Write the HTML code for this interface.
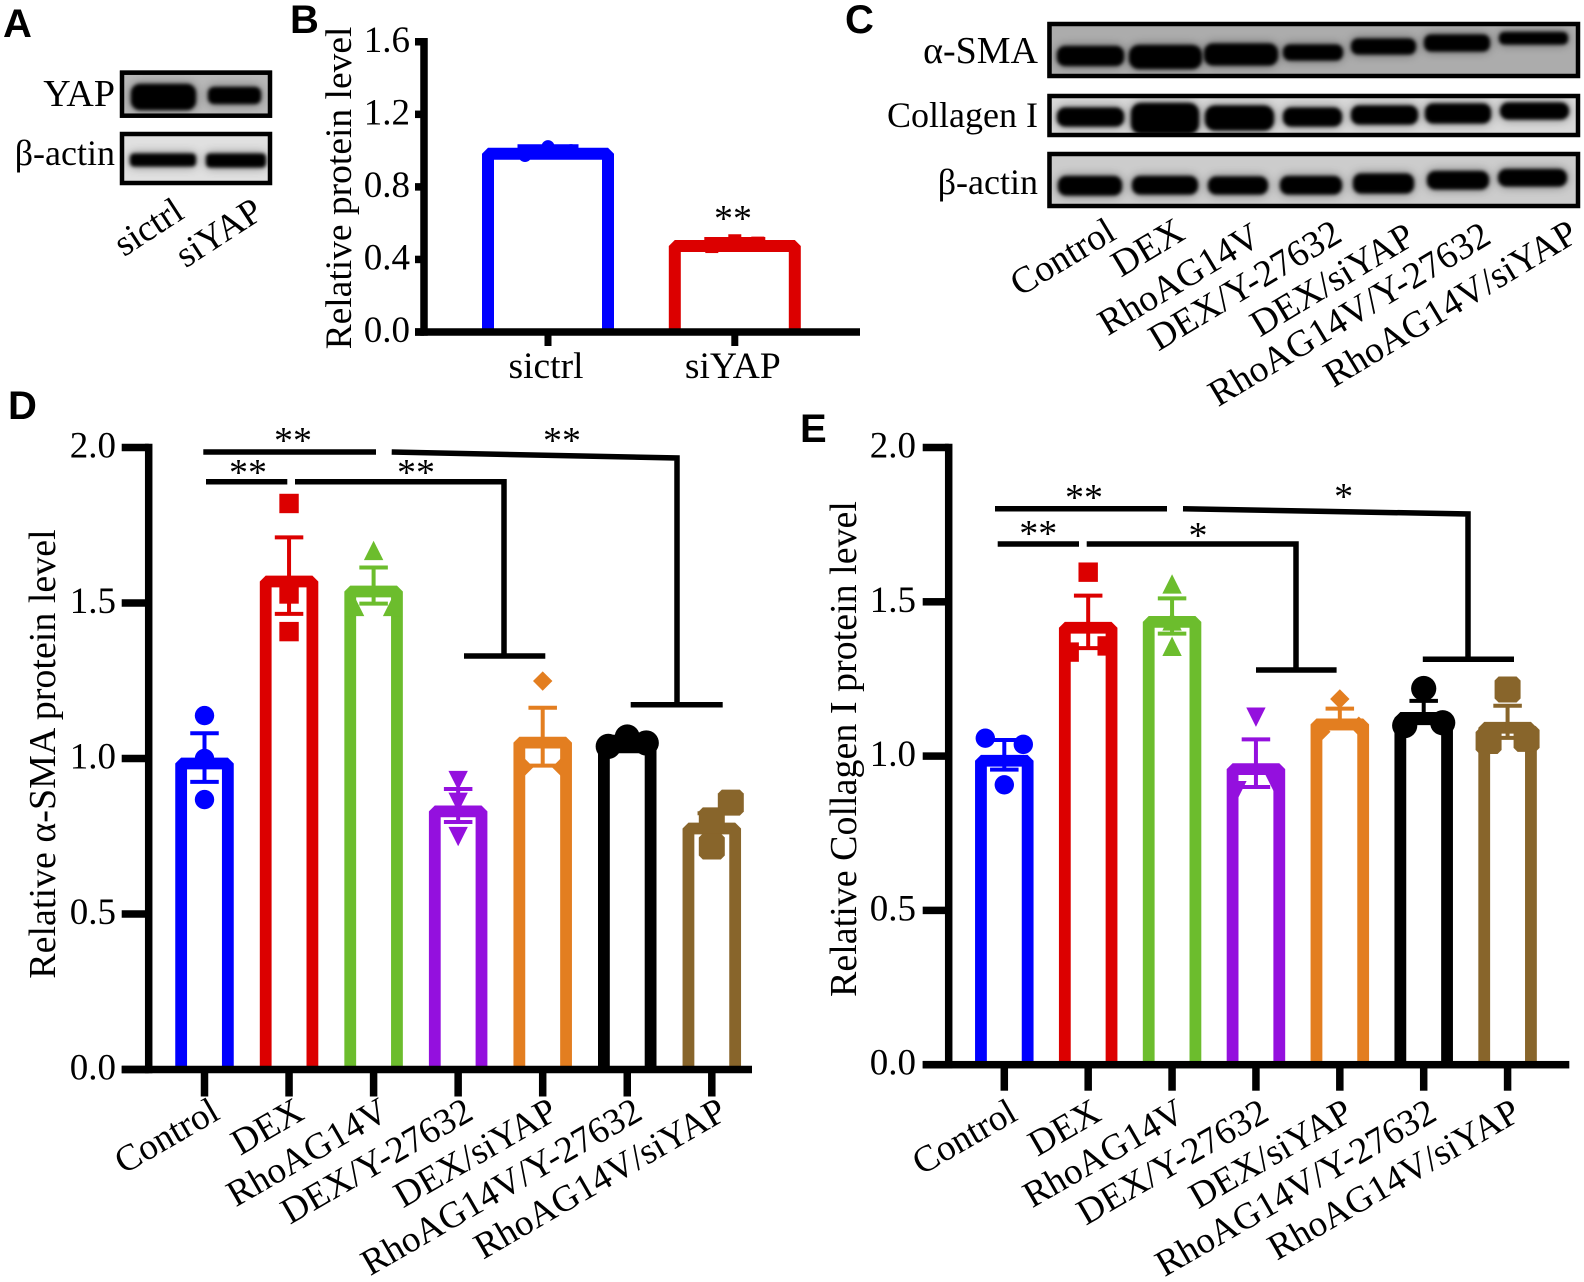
<!DOCTYPE html>
<html lang="en">
<head>
<meta charset="utf-8">
<title>Protein level figure</title>
<style>
html,body{margin:0;padding:0;background:#fff;}
svg{display:block;}
text{font-family:"Liberation Serif",serif;fill:#000;}
.panel{font-family:"Liberation Sans",sans-serif;font-weight:bold;font-size:40px;}
</style>
</head>
<body>
<svg id="fig" xmlns="http://www.w3.org/2000/svg" width="1584" height="1282" viewBox="0 0 1584 1282">
<defs>
<filter id="band" x="-40%" y="-150%" width="180%" height="400%">
<feGaussianBlur in="SourceGraphic" stdDeviation="1.8" result="a"/>
<feGaussianBlur in="SourceGraphic" stdDeviation="5" result="b"/>
<feComponentTransfer in="b" result="c"><feFuncA type="linear" slope=".5"/></feComponentTransfer>
<feMerge><feMergeNode in="c"/><feMergeNode in="a"/></feMerge>
</filter>
<clipPath id="c-a1"><rect x="120" y="70" width="152" height="48"/></clipPath>
<clipPath id="c-a2"><rect x="120" y="132" width="152" height="53"/></clipPath>
<clipPath id="c-c1"><rect x="1047" y="22" width="533" height="56"/></clipPath>
<clipPath id="c-c2"><rect x="1047" y="94" width="533" height="43"/></clipPath>
<clipPath id="c-c3"><rect x="1047" y="152" width="533" height="56"/></clipPath>
</defs>
<rect width="1584" height="1282" fill="#fff"/>

<text class="panel" x="3" y="37">A</text>
<text class="panel" x="290" y="33">B</text>
<text class="panel" x="845" y="33">C</text>
<text class="panel" x="8" y="419">D</text>
<text class="panel" x="800" y="442">E</text>

<!-- Panel A blots -->
<g clip-path="url(#c-a1)">
<rect x="120" y="70" width="152" height="48" fill="#b8b8b8"/>
<rect x="131" y="84" width="65" height="26" rx="9" fill="#000" filter="url(#band)"/>
<rect x="208" y="87" width="53" height="17" rx="6" fill="#000" filter="url(#band)"/>
</g>
<rect x="122" y="72.7" width="148" height="43" fill="none" stroke="#000" stroke-width="4.5"/>
<g clip-path="url(#c-a2)">
<rect x="120" y="132" width="152" height="53" fill="#e0e0e0"/>
<rect x="130" y="153.5" width="66" height="13" rx="4" fill="#000" filter="url(#band)"/>
<rect x="206" y="153.5" width="60" height="14" rx="4" fill="#000" filter="url(#band)"/>
</g>
<rect x="122" y="134" width="148" height="49" fill="none" stroke="#000" stroke-width="4.5"/>
<text x="115" y="106" text-anchor="end" font-size="38">YAP</text>
<text x="115" y="165" text-anchor="end" font-size="36">β-actin</text>
<text transform="translate(186,217) rotate(-33)" text-anchor="end" font-size="37">sictrl</text>
<text transform="translate(265,217) rotate(-33)" text-anchor="end" font-size="37">siYAP</text>

<!-- Panel C blots -->
<g clip-path="url(#c-c1)">
<rect x="1047" y="22" width="533" height="56" fill="#acacac"/>
<rect x="1057" y="46" width="67" height="20" rx="8" fill="#000" filter="url(#band)"/>
<rect x="1129" y="45" width="73" height="24" rx="10" fill="#000" filter="url(#band)"/>
<rect x="1204" y="43.5" width="74" height="22" rx="9" fill="#000" filter="url(#band)"/>
<rect x="1283" y="44.5" width="60" height="16" rx="7" fill="#000" filter="url(#band)"/>
<rect x="1351" y="38.5" width="65" height="16" rx="7" fill="#000" filter="url(#band)"/>
<rect x="1424" y="34.5" width="66" height="17" rx="7" fill="#000" filter="url(#band)"/>
<rect x="1499" y="32" width="69" height="12.5" rx="5" fill="#000" filter="url(#band)"/>
</g>
<rect x="1049.5" y="24" width="528.5" height="52" fill="none" stroke="#000" stroke-width="4.5"/>
<g clip-path="url(#c-c2)">
<rect x="1047" y="94" width="533" height="43" fill="#d8d8d8"/>
<rect x="1057" y="107.5" width="67" height="19" rx="8" fill="#000" filter="url(#band)"/>
<rect x="1131" y="103" width="68" height="31" rx="10" fill="#000" filter="url(#band)"/>
<rect x="1205" y="105.5" width="69" height="25" rx="10" fill="#000" filter="url(#band)"/>
<rect x="1283" y="107.5" width="59" height="19" rx="8" fill="#000" filter="url(#band)"/>
<rect x="1351" y="105.5" width="67" height="19" rx="8" fill="#000" filter="url(#band)"/>
<rect x="1425" y="103.5" width="66" height="20" rx="8" fill="#000" filter="url(#band)"/>
<rect x="1500" y="102.5" width="69" height="17" rx="8" fill="#000" filter="url(#band)"/>
</g>
<rect x="1049.5" y="96" width="528.5" height="39" fill="none" stroke="#000" stroke-width="4.5"/>
<g clip-path="url(#c-c3)">
<rect x="1047" y="152" width="533" height="56" fill="#cccccc"/>
<rect x="1058" y="176" width="64" height="19.5" rx="8" fill="#000" filter="url(#band)"/>
<rect x="1132" y="176" width="66" height="18.5" rx="8" fill="#000" filter="url(#band)"/>
<rect x="1208" y="176.5" width="60" height="18" rx="8" fill="#000" filter="url(#band)"/>
<rect x="1280" y="176" width="62" height="18.5" rx="8" fill="#000" filter="url(#band)"/>
<rect x="1353" y="173.5" width="61" height="20" rx="8" fill="#000" filter="url(#band)"/>
<rect x="1427" y="171" width="62" height="18.5" rx="8" fill="#000" filter="url(#band)"/>
<rect x="1498" y="169" width="69" height="17.5" rx="8" fill="#000" filter="url(#band)"/>
</g>
<rect x="1049.5" y="154" width="528.5" height="52" fill="none" stroke="#000" stroke-width="4.5"/>
<text x="1038" y="63" text-anchor="end" font-size="38">α-SMA</text>
<text x="1038" y="127" text-anchor="end" font-size="36">Collagen I</text>
<text x="1038" y="194" text-anchor="end" font-size="36">β-actin</text>
<text transform="translate(1118,238) rotate(-31)" text-anchor="end" font-size="37.5">Control</text>
<text transform="translate(1187,238) rotate(-31)" text-anchor="end" font-size="37.5">DEX</text>
<text transform="translate(1263,243) rotate(-31)" text-anchor="end" font-size="37.5">RhoAG14V</text>
<text transform="translate(1344,240) rotate(-31)" text-anchor="end" font-size="37.5">DEX/Y-27632</text>
<text transform="translate(1417,243) rotate(-31)" text-anchor="end" font-size="37.5">DEX/siYAP</text>
<text transform="translate(1493,242) rotate(-31)" text-anchor="end" font-size="37.5">RhoAG14V/Y-27632</text>
<text transform="translate(1580,240) rotate(-31)" text-anchor="end" font-size="37.5">RhoAG14V/siYAP</text>

<!-- Significance brackets D -->
<g fill="none" stroke="#000" stroke-width="5.5">
<path d="M203.3 452H376"/>
<path d="M206 481.7H287.3"/>
<path d="M295 481.7H504V656M464 656H545.3"/>
<path d="M391.7 452L677 458V704.7M630.7 704.7H722.7"/>
</g>
<!-- Significance brackets E -->
<g fill="none" stroke="#000" stroke-width="5.5">
<path d="M995 508.7H1167"/>
<path d="M997.7 544H1079"/>
<path d="M1086.7 544H1296V670M1256 670H1336.6"/>
<path d="M1183 508.7L1468 514V659.3M1422.8 659.3H1514"/>
</g>
<g id="charts"></g>
<g font-size="38" text-anchor="middle">
<text x="733" y="231">**</text>
<text x="293" y="453">**</text>
<text x="248" y="485">**</text>
<text x="416" y="485">**</text>
<text x="562" y="453">**</text>
<text x="1084" y="510">**</text>
<text x="1038.3" y="546">**</text>
<text x="1198" y="548">*</text>
<text x="1343.6" y="509">*</text>
</g>
</svg>
<script>
// Shared categories
const groupLabels = ["Control","DEX","RhoAG14V","DEX/Y-27632","DEX/siYAP","RhoAG14V/Y-27632","RhoAG14V/siYAP"];
const groupSlugs = ["control","dex","rhoag14v","dex-y27632","dex-siyap","rhoag14v-y27632","rhoag14v-siyap"];

// Panel B values
const bCategories = ["sictrl","siYAP"];
const bMeans = [1.016,0.507];
const bSems = [0.008,0.006];
const bPoints = [[1.022,0.973,1.0],[0.503,0.471,0.49]];
const bSlots = [[0,-1,1],[0,-1,1]];
const bTicks = [0,0.4,0.8,1.2,1.6];
const bTickLabels = ["0.0","0.4","0.8","1.2","1.6"];

// Panel D values (alpha-SMA)
const dMeans = [1.003,1.588,1.556,0.849,1.07,1.055,0.794];
const dSems = [0.078,0.123,0.058,0.053,0.093,0.015,0.03];
const dPoints = [[1.138,1.0,0.868],[1.82,1.529,1.408],[1.669,1.489,1.489],[0.929,0.859,0.749],[1.249,0.972,0.972],[1.039,1.069,1.05],[0.858,0.801,0.717]];
const dSlots = [[0,0,0],[0,0,0],[0,-1,1],[0,0,0],[0,-1,1],[-1,0,1],[1,0,0]];
const dTicks = [0,0.5,1,1.5,2];
const dTickLabels = ["0.0","0.5","1.0","1.5","2.0"];

// Panel E values (Collagen I)
const eMeans = [1.004,1.435,1.454,0.977,1.122,1.143,1.111];
const eSems = [0.048,0.085,0.057,0.077,0.032,0.036,0.052];
const ePoints = [[1.058,1.038,0.907],[1.596,1.337,1.357],[1.558,1.356,1.438],[1.126,0.909,0.888],[1.185,1.079,1.097],[1.219,1.099,1.108],[1.216,1.049,1.056]];
const eSlots = [[-1,1,0],[0,-1,1],[0,0,0],[0,1,-1],[0,-1,1],[0,-1,1],[0,-1,1]];
const eTicks = [0,0.5,1,1.5,2];
const eTickLabels = ["0.0","0.5","1.0","1.5","2.0"];

// Styling per group
const groupColors = ["#0000ff","#dc0000","#6cbd2d","#9410de","#e37e20","#000000","#88652b"];
const groupShapes = ["circle","square","up","down","diamond","bigcircle","bigsquare"];

const NS = "http://www.w3.org/2000/svg";
const root = document.getElementById("charts");
function mk(tag, attrs, parent){
  const el = document.createElementNS(NS, tag);
  for (const k in attrs) el.setAttribute(k, attrs[k]);
  parent.appendChild(el);
  return el;
}
function marker(shape, cx, cy, s, color, parent){
  let el;
  if (shape === "circle") {
    el = mk("circle",{cx:cx,cy:cy,r:s,fill:color},parent);
  } else if (shape === "bigcircle") {
    el = mk("circle",{cx:cx,cy:cy,r:s*1.3,fill:color},parent);
  } else if (shape === "square") {
    el = mk("rect",{x:cx-s,y:cy-s,width:2*s,height:2*s,fill:color},parent);
  } else if (shape === "bigsquare") {
    const h = s*1.34, c = 4;
    el = mk("polygon",{points:[[cx-h+c,cy-h],[cx+h-c,cy-h],[cx+h,cy-h+c],[cx+h,cy+h-c],[cx+h-c,cy+h],[cx-h+c,cy+h],[cx-h,cy+h-c],[cx-h,cy-h+c]].map(p=>p.join(",")).join(" "),fill:color},parent);
  } else if (shape === "up") {
    el = mk("polygon",{points:[[cx,cy-s],[cx+s,cy+s],[cx-s,cy+s]].map(p=>p.join(",")).join(" "),fill:color},parent);
  } else if (shape === "down") {
    el = mk("polygon",{points:[[cx,cy+s],[cx+s,cy-s],[cx-s,cy-s]].map(p=>p.join(",")).join(" "),fill:color},parent);
  } else {
    el = mk("polygon",{points:[[cx,cy-s],[cx+s,cy],[cx,cy+s],[cx-s,cy]].map(p=>p.join(",")).join(" "),fill:color},parent);
  }
  return el;
}
function drawBars(name, parent, xAt, yAt, means, sems, points, slots, colors, shapes, slugs, st){
  const base = yAt(0);
  means.forEach(function(m, i){
    const g = mk("g",{},parent);
    
    
    const cx = xAt(i), sw = st.stroke, hw = st.barW/2 - sw/2, top = yAt(m) + sw/2;
    const bar = mk("path",{d:"M"+(cx-hw)+" "+base+"V"+top+"H"+(cx+hw)+"V"+base,fill:"#fff",stroke:colors[i],"stroke-width":sw,"stroke-linejoin":"bevel"},g);
    
    
    const yHi = yAt(m + sems[i]), yLo = yAt(m - sems[i]);
    const err = mk("path",{d:"M"+cx+" "+yHi+"V"+yLo+"M"+(cx-st.cap/2)+" "+yHi+"H"+(cx+st.cap/2)+"M"+(cx-st.cap/2)+" "+yLo+"H"+(cx+st.cap/2),fill:"none",stroke:colors[i],"stroke-width":st.errW},g);
    
    
    points[i].forEach(function(v, j){
      const p = marker(shapes[i], cx + slots[i][j]*st.spread, yAt(v), st.size, colors[i], g);
      
      
    });
  });
}
function drawAxes(name, parent, xAt, yAt, ticks, tickLabels, cats, st){
  const g = mk("g",{},parent);
  
  
  const w = st.axisW, y0 = yAt(0);
  const top = yAt(ticks[ticks.length-1]);
  const yAxis = mk("rect",{x:st.axisX-w/2,y:top-w/2,width:w,height:y0-top+w,fill:"#000"},g);
  
  
  const xAxis = mk("rect",{x:st.axisLeft,y:y0-w/2,width:st.axisRight-st.axisLeft,height:w,fill:"#000"},g);
  
  
  ticks.forEach(function(t, i){
    const yy = yAt(t);
    const tk = mk("rect",{x:st.axisLeft,y:yy-w/2,width:st.axisX-st.axisLeft,height:w,fill:"#000"},g);
    
    
    const lb = mk("text",{x:st.labelX,y:yy+st.labelDy,"text-anchor":"end","font-size":st.tickFont},g);
    lb.textContent = tickLabels[i];
    
    
  });
  cats.forEach(function(c, i){
    const xx = xAt(i);
    const tk = mk("rect",{x:xx-st.xTickW/2,y:y0,width:st.xTickW,height:st.xTickLen,fill:"#000"},g);
    
    
    const lb = mk("text",st.rotate ?
      {transform:"translate("+(xx+st.catDx)+","+st.catY+") rotate("+st.rotate+")","text-anchor":"end","font-size":st.catFont} :
      {x:xx+st.catDx,y:st.catY,"text-anchor":"middle","font-size":st.catFont},g);
    lb.textContent = c;
    
    
  });
  const title = mk("text",{transform:"translate("+st.titleX+","+st.titleY+") rotate(-90)","text-anchor":"middle","font-size":st.titleFont},g);
  title.textContent = st.title;
  
  
}

// Panel B
const xB = i => 548 + 186.8*i;
const yB = v => 332 - 181.4*v;
const gB = mk("g",{},root);


drawBars("b", gB, xB, yB, bMeans, bSems, bPoints, bSlots, ["#0000ff","#dc0000"], ["circle","square"], ["sictrl","siyap"],
  {stroke:12, barW:132, cap:61, errW:4, size:6.5, spread:23});
drawAxes("b", gB, xB, yB, bTicks, bTickLabels, bCategories,
  {axisW:7.5, axisX:424, axisLeft:415, axisRight:860, labelX:410, labelDy:10, tickFont:37, catFont:37.5, titleFont:37.5, xTickW:7, xTickLen:14, catDx:-2, catY:378,
   title:"Relative protein level", titleX:351, titleY:188});

// Panel D
const xD = i => 204.5 + 84.55*i;
const yD = v => 1069.5 - 311*v;
const gD = mk("g",{},root);


drawBars("d", gD, xD, yD, dMeans, dSems, dPoints, dSlots, groupColors, groupShapes, groupSlugs,
  {stroke:11.8, barW:58.5, cap:28.5, errW:4, size:9.7, spread:19});
drawAxes("d", gD, xD, yD, dTicks, dTickLabels, groupLabels,
  {axisW:7.5, axisX:148.7, axisLeft:121.7, axisRight:752, labelX:116, labelDy:10, tickFont:37, catFont:37, titleFont:38, xTickW:7.5, xTickLen:27, catDx:17, catY:1118, rotate:-30,
   title:"Relative α-SMA protein level", titleX:55, titleY:754});

// Panel E
const xE = i => 1004.3 + 83.88*i;
const yE = v => 1064.7 - 308.6*v;
const gE = mk("g",{},root);


drawBars("e", gE, xE, yE, eMeans, eSems, ePoints, eSlots, groupColors, groupShapes, groupSlugs,
  {stroke:11.8, barW:58.5, cap:28.5, errW:4, size:9.7, spread:19});
drawAxes("e", gE, xE, yE, eTicks, eTickLabels, groupLabels,
  {axisW:7.5, axisX:948.7, axisLeft:922.7, axisRight:1569.3, labelX:916, labelDy:10, tickFont:37, catFont:37, titleFont:38, xTickW:7.5, xTickLen:26, catDx:15, catY:1119, rotate:-30,
   title:"Relative Collagen I protein level", titleX:856, titleY:749});
</script>
</body>
</html>
